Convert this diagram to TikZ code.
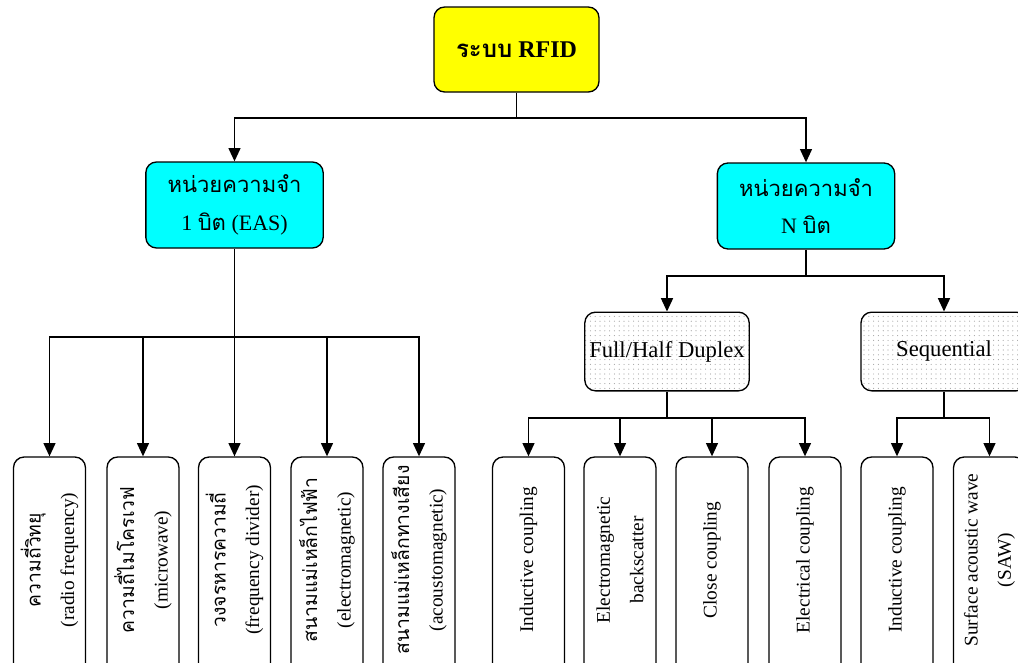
\documentclass[tikz,border=0pt]{standalone}
\usepackage{fontspec}
\setmainfont{Liberation Serif}
\newfontfamily\thai[Script=Thai]{Loma}
\usetikzlibrary{arrows.meta,patterns.meta}
\definecolor{rootyellow}{HTML}{FFFF00}
\definecolor{memcyan}{HTML}{00FFFF}
\begin{document}
\begin{tikzpicture}[x=0.75pt,y=-0.75pt,
  line/.style={draw=black,line width=1.1pt},
  arr/.style={line,-{Triangle[length=10pt,width=9pt]}},
  rootbox/.style={draw=black,line width=1pt,rounded corners=8pt,fill=rootyellow,
    minimum width=123.75pt,minimum height=63.75pt,
    font=\fontsize{18}{22}\selectfont\bfseries},
  membox/.style={draw=black,line width=1pt,rounded corners=8pt,fill=memcyan,
    minimum width=133pt,minimum height=64.5pt,align=center,
    font=\fontsize{16.5}{28}\selectfont},
  dotbox/.style={draw=black,line width=1pt,rounded corners=8pt,
    pattern={Dots[distance=3.6pt,radius=0.45pt]},pattern color=gray!70,
    minimum width=123pt,minimum height=59pt,
    font=\fontsize{17}{20}\selectfont},
  leafbox/.style={draw=black,line width=1pt,rounded corners=8pt,
    minimum width=54pt,minimum height=174.75pt},
  leaftext/.style={rotate=90,align=center,inner sep=0pt,
    font=\fontsize{14.5}{25}\selectfont}
]
\useasboundingbox (0,0) rectangle (1018,662);
\clip (0,0) rectangle (1018,662);

% main nodes
\node[rootbox] (root) at (516.5,49.5) {{\thai ระบบ} RFID};
\node[membox] (c1) at (234.5,205) {{\thai หน่วยความจำ}\\1 {\thai บิต} (EAS)};
\node[membox] (c2) at (806,206) {{\thai หน่วยความจำ}\\N {\thai บิต}};
\node[dotbox] (d1) at (667,351.5) {Full/Half Duplex};
\node[dotbox,minimum width=124.5pt] (d2) at (944,351.5) {Sequential};

% left leaves
\node[leafbox] (l1) at (49.5,573.5) {};
\node[leafbox] (l2) at (143,573.5) {};
\node[leafbox] (l3) at (234.5,573.5) {};
\node[leafbox] (l4) at (327,573.5) {};
\node[leafbox] (l5) at (419,573.5) {};
\node[leaftext] (t1) at (49.5,560) {{\thai ความถี่วิทยุ}\\(radio frequency)};
\node[leaftext] (t2) at (143,560) {{\thai ความถี่ไมโครเวฟ}\\(microwave)};
\node[leaftext] (t3) at (234.5,560) {{\thai วงจรหารความถี่}\\(frequency divider)};
\node[leaftext] (t4) at (327,560) {{\thai สนามแม่เหล็กไฟฟ้า}\\(electromagnetic)};
\node[leaftext] (t5) at (419,560) {{\thai สนามแม่เหล็กทางเสียง}\\(acoustomagnetic)};

% right leaves
\node[leafbox] (r1) at (528.5,573.5) {};
\node[leafbox] (r2) at (620,573.5) {};
\node[leafbox] (r3) at (712,573.5) {};
\node[leafbox] (r4) at (805,573.5) {};
\node[leafbox] (r5) at (897,573.5) {};
\node[leafbox] (r6) at (989.5,573.5) {};
\node[leaftext] (s1) at (528.5,560) {Inductive coupling};
\node[leaftext] (s2) at (620,560) {Electromagnetic\\backscatter};
\node[leaftext] (s3) at (712,560) {Close coupling};
\node[leaftext] (s4) at (805,560) {Electrical coupling};
\node[leaftext] (s5) at (897,560) {Inductive coupling};
\node[leaftext] (s6) at (989.5,560) {Surface acoustic wave\\(SAW)};

% junctions
\coordinate (j0) at (516.5,118);
\coordinate (j1) at (234.5,337);
\coordinate (j2) at (806,276);
\coordinate (j3) at (667,418);
\coordinate (j4) at (944,418);

% connectors
\draw[line] (root.south) -- (j0);
\draw[arr] (j0) -| (c1.north);
\draw[arr] (j0) -| (c2.north);

\draw[line] (c1.south) -- (j1);
\foreach \n in {l1,l2,l3,l4,l5} \draw[arr] (j1) -| (\n.north);

\draw[line] (c2.south) -- (j2);
\draw[arr] (j2) -| (d1.north);
\draw[arr] (j2) -| (d2.north);

\draw[line] (d1.south) -- (j3);
\foreach \n in {r1,r2,r3,r4} \draw[arr] (j3) -| (\n.north);

\draw[line] (d2.south) -- (j4);
\foreach \n in {r5,r6} \draw[arr] (j4) -| (\n.north);
\end{tikzpicture}
\end{document}
